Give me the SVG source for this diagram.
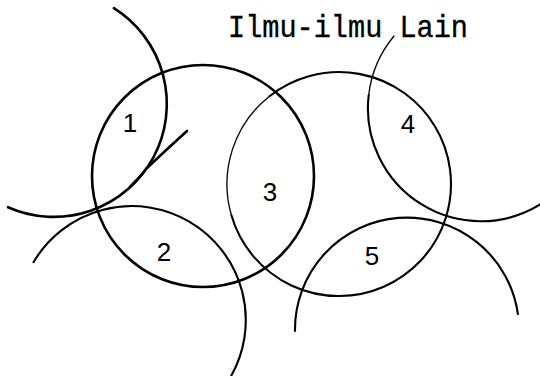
<svg xmlns="http://www.w3.org/2000/svg" width="540" height="376" viewBox="0 0 540 376">
<style>
.heavy{fill:none;stroke:#000;stroke-width:2.6;stroke-linecap:round}
.mid{fill:none;stroke:#000;stroke-width:2.1;stroke-linecap:round}
.thin{fill:none;stroke:#000;stroke-width:1.3;stroke-linecap:round}
.num{font-family:"Liberation Sans","DejaVu Sans",sans-serif;font-size:26px;fill:#000;text-anchor:middle}
.lbl{font-family:"Liberation Mono","DejaVu Sans Mono",monospace;font-size:31px;fill:#000;stroke:#000;stroke-width:0.35}
</style>
<rect width="540" height="376" fill="#fff"/>
<g id="connectors">
  <path id="arc-top-left" class="heavy" d="M113.9,8.2 A113,113 0 0 1 8,207.2"/>
  <path id="arc-top-left-tail" class="heavy" d="M187,131 Q166,150 147,168 Q139,178 130,187"/>
  <path id="arc-bottom-left" class="mid" d="M33.5,262.2 A114,114 0 0 1 230,378"/>
  <path id="arc-right-top" class="thin" d="M394,36 A113,113 0 0 0 368.7,95"/>
  <path id="arc-right" class="mid" d="M368.7,95 A113,113 0 0 0 542.5,203"/>
  <path id="arc-bottom-right" class="mid" d="M295,331 A112,112 0 0 1 517.9,314"/>
</g>
<g id="circle-left">
  <circle class="heavy" cx="203" cy="176" r="111"/>
</g>
<g id="circle-right">
  <path class="thin" d="M269.5,96.2 A112,112 0 0 0 231.4,215.2"/>
  <path class="mid" d="M231.4,215.2 A112,112 0 1 0 269.5,96.2"/>
</g>
<g id="region-1"><text class="num" x="130" y="132">1</text></g>
<g id="region-2"><text class="num" x="164" y="261">2</text></g>
<g id="region-3"><text class="num" x="270" y="201">3</text></g>
<g id="region-4"><text class="num" x="408" y="133">4</text></g>
<g id="region-5"><text class="num" x="372" y="265">5</text></g>
<g id="label-lain"><text class="lbl" x="228" y="37" textLength="240" lengthAdjust="spacingAndGlyphs">Ilmu-ilmu Lain</text></g>
</svg>
